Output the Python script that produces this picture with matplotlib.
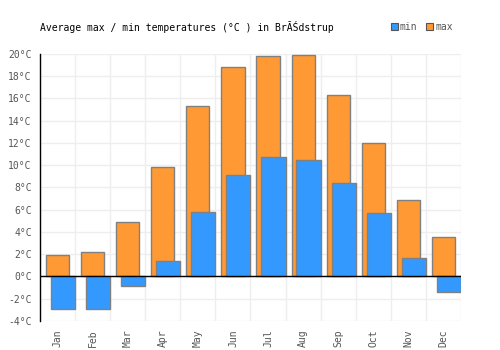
import numpy as np
import matplotlib.pyplot as plt

months = ['Jan', 'Feb', 'Mar', 'Apr', 'May', 'Jun',
          'Jul', 'Aug', 'Sep', 'Oct', 'Nov', 'Dec']
t_max = [1.9, 2.2, 4.9, 9.8, 15.3, 18.8, 19.8, 19.9, 16.3, 12.0, 6.9, 3.5]
t_min = [-2.9, -2.9, -0.9, 1.4, 5.8, 9.1, 10.7, 10.5, 8.4, 5.7, 1.7, -1.4]
yticks = list(range(-4, 21, 2))

font = 'DejaVu Sans Mono'
blue = '#3399ff'
orange = '#ff9933'
edge = '#808080'

fig = plt.figure(figsize=(5, 3.5), dpi=100)
ax = fig.add_axes([0.08, 0.083, 0.842, 0.763])

x = np.arange(len(months))
ax.bar(x + 0.17, t_max, width=0.66, align='edge', color=orange,
       edgecolor=edge, linewidth=1, zorder=2)
ax.bar(x + 0.31, t_min, width=0.69, align='edge', color=blue,
       edgecolor=edge, linewidth=1, zorder=3)

ax.set_xlim(0, 12)
ax.set_ylim(-4, 20)
ax.axhline(0, color='black', linewidth=1, zorder=4)

ax.set_yticks(yticks)
ax.set_yticklabels([f'{v}°C' for v in yticks], family=font, fontsize=7, color='#555555')
ax.set_xticks(x + 0.5)
ax.set_xticklabels(months, rotation=90, family=font, fontsize=7, color='#555555')
ax.set_xticks(np.arange(0, 13), minor=True)
ax.tick_params(axis='both', which='both', length=0)
ax.tick_params(axis='y', pad=6)
ax.tick_params(axis='x', pad=6)

ax.grid(True, which='minor', axis='x', color='#eeeeee', linewidth=1, zorder=0)
ax.grid(True, which='major', axis='y', color='#eeeeee', linewidth=1, zorder=0)
ax.set_axisbelow(True)

for s in ['top', 'right', 'bottom']:
    ax.spines[s].set_visible(False)
ax.spines['left'].set_color('black')
ax.spines['left'].set_linewidth(1)

fig.text(0.08, 0.922, 'Average max / min temperatures (°C ) in BrĂŚdstrup',
         family=font, fontsize=7, color='black', va='center')

# legend drawn as small squares and labels
fig.patches.append(plt.Rectangle((0.782, 0.914), 0.014, 0.02, transform=fig.transFigure,
                                 facecolor=blue, edgecolor='#555555', linewidth=0.8))
fig.text(0.800, 0.922, 'min', family=font, fontsize=7, color='#555555', va='center')
fig.patches.append(plt.Rectangle((0.852, 0.914), 0.014, 0.02, transform=fig.transFigure,
                                 facecolor=orange, edgecolor='#555555', linewidth=0.8))
fig.text(0.870, 0.922, 'max', family=font, fontsize=7, color='#555555', va='center')

fig.savefig('out.png', dpi=100)
